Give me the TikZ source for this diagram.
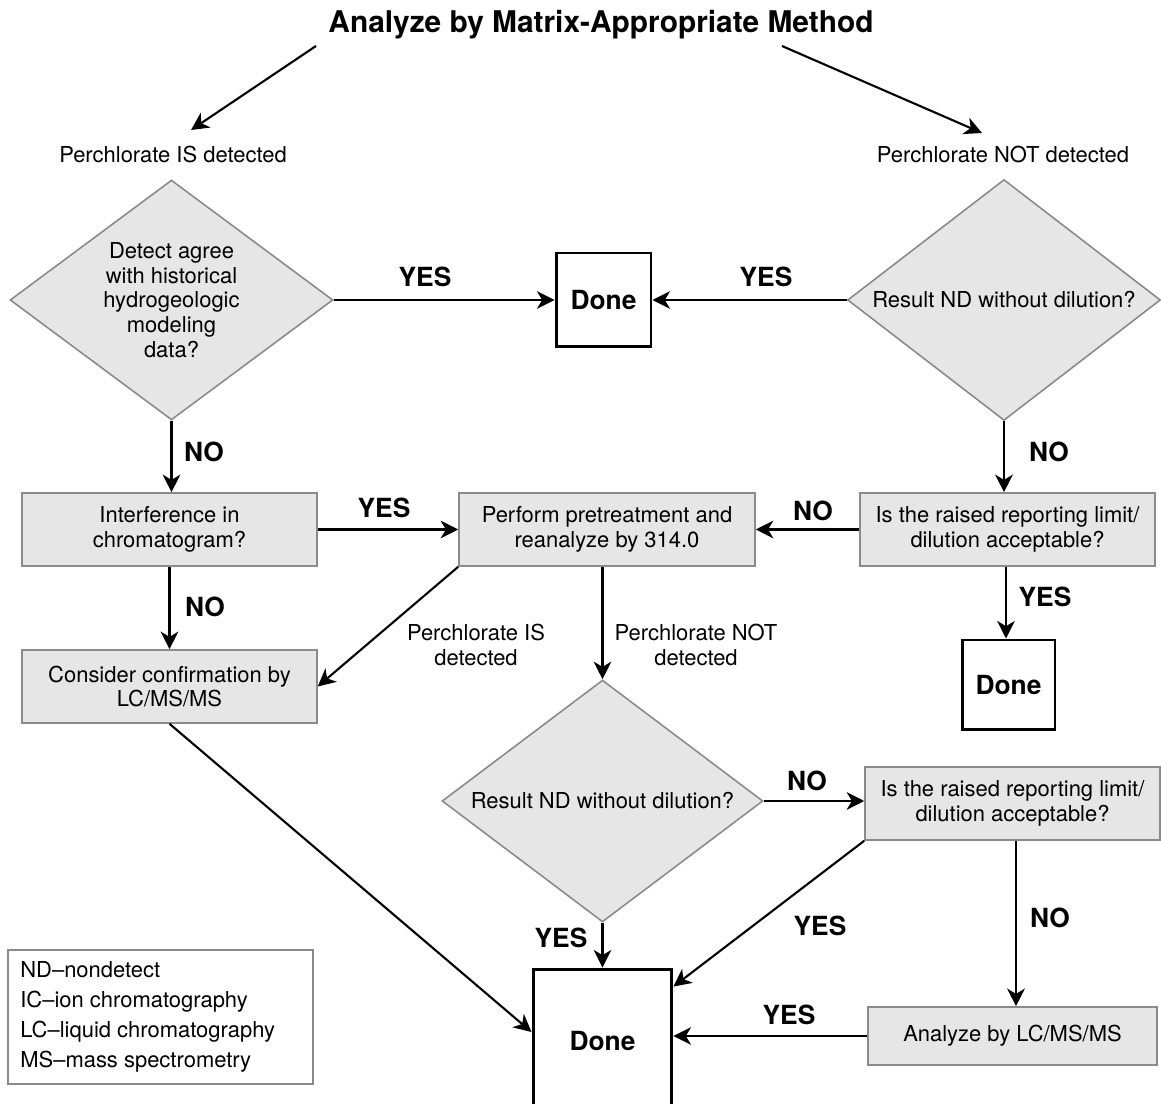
\documentclass[tikz,border=0pt]{standalone}
\usepackage{fontspec}
\setmainfont{TeX Gyre Heros}
\usetikzlibrary{arrows.meta,shapes.geometric,calc}
\definecolor{boxgray}{HTML}{8A8A8A}
\definecolor{boxfill}{HTML}{E6E6E6}
\begin{document}
\begin{tikzpicture}[x=0.02cm,y=-0.02cm,
  arr/.style={-{Stealth[length=10pt,width=10pt,inset=3pt]}, line width=1.2pt},
  txt/.style={font=\fontsize{12.5}{14.2}\selectfont, align=center, inner sep=0},
  lbl/.style={font=\fontsize{15}{17}\selectfont\bfseries, inner sep=0},
  gbox/.style={draw=boxgray, fill=boxfill, line width=0.9pt, inner sep=0, align=center,
    font=\fontsize{12.5}{14.2}\selectfont, minimum width=5.9cm, minimum height=1.46cm},
  dia/.style={diamond, draw=boxgray, fill=boxfill, line width=0.9pt, inner sep=0, align=center,
    font=\fontsize{12.5}{14}\selectfont, aspect=1.33},
  donebox/.style={draw=black, line width=1.7pt, inner sep=0, font=\fontsize{15}{17}\selectfont\bfseries}
]
\useasboundingbox (0,0) rectangle (1161,1104);

% title and first branch
\node[inner sep=0, font=\fontsize{17}{19}\selectfont\bfseries] (title) at (601,25) {Analyze by Matrix-Appropriate Method};
\node[txt] (isdet) at (173,155) {Perchlorate IS detected};
\node[txt] (notdet) at (1003,155) {Perchlorate NOT detected};
\coordinate (ta1) at (316,46);
\coordinate (ta2) at (191,130);
\coordinate (tb1) at (782,46);
\coordinate (tb2) at (982,133);
\draw[arr] (ta1) -- (ta2);
\draw[arr] (tb1) -- (tb2);

% diamonds
\node[dia, minimum width=6.46cm, minimum height=4.8cm] (d1) at (171.5,300)
  {Detect agree\\with historical\\hydrogeologic\\modeling\\data?};
\node[dia, minimum width=6.26cm, minimum height=4.82cm] (d2) at (1004,300)
  {Result ND without dilution?};
\node[dia, minimum width=6.42cm, minimum height=4.84cm] (d3) at (602.5,801)
  {Result ND without dilution?};

% done boxes
\node[donebox, minimum width=1.9cm, minimum height=1.88cm] (done1) at (603.5,300) {Done};
\node[donebox, minimum width=1.86cm, minimum height=1.8cm] (done2) at (1008.5,685) {Done};
\node[donebox, minimum width=2.78cm, minimum height=2.88cm] (done3) at (602.5,1041) {Done};

% grey boxes
\node[gbox] (int) at (169.5,529.5) {Interference in\\chromatogram?};
\node[gbox] (cons) at (169.5,686.5) {Consider confirmation by\\LC/MS/MS};
\node[gbox, minimum width=5.92cm] (perf) at (607,529.5) {Perform pretreatment and\\reanalyze by 314.0};
\node[gbox] (ir1) at (1007.5,529.5) {Is the raised reporting limit/\\dilution acceptable?};
\node[gbox] (ir2) at (1012.5,803.5) {Is the raised reporting limit/\\dilution acceptable?};
\node[gbox, minimum width=5.78cm, minimum height=1.16cm] (an) at (1012.5,1036) {Analyze by LC/MS/MS};

% legend
\node[draw=boxgray, line width=0.9pt, minimum width=6.1cm, minimum height=2.68cm, inner sep=0] (leg) at (160.5,1017) {};
\node[anchor=west, align=left, font=\fontsize{12.5}{17}\selectfont, inner sep=0] (legtext) at (20,1017)
  {ND–nondetect\\IC–ion chromatography\\LC–liquid chromatography\\MS–mass spectrometry};

% connectors
\draw[arr] (d1.east) -- (done1.west);
\draw[arr] (d2.west) -- (done1.east);
\draw[arr] (d1.south) -- (d1.south |- int.north);
\draw[arr] (d2.south) -- (d2.south |- ir1.north);
\draw[arr] (int.east) -- (perf.west);
\draw[arr] (ir1.west) -- (perf.east);
\draw[arr] (int.south) -- (cons.north);
\draw[arr] ($(ir1.south)+(-1.5,0)$) -- ($(done2.north)+(-2.5,0)$);
\draw[arr] (perf.south west) -- (cons.east);
\draw[arr] (d3.north |- perf.south) -- (d3.north);
\draw[arr] (d3.east) -- (d3.east -| ir2.west);
\draw[arr] ($(ir2.south)+(3.5,0)$) -- ($(ir2.south |- an.north)+(3.5,0)$);
\draw[arr] (an.west) -- (an.west -| done3.east);
\draw[arr] (ir2.south west) -- ($(done3.north east)+(0,19)$);
\draw[arr] (d3.south) -- (d3.south |- done3.north);
\draw[arr] (cons.south) -- ($(done3.west)+(0,-9)$);

% connector labels
\node[lbl] (l1) at (425,277) {YES};
\node[lbl] (l2) at (766,277) {YES};
\node[lbl] (l3) at (204,452) {NO};
\node[lbl] (l4) at (1049,452) {NO};
\node[lbl] (l5) at (384,508) {YES};
\node[lbl] (l6) at (813,511) {NO};
\node[lbl] (l7) at (205,607) {NO};
\node[lbl] (l8) at (1045,597) {YES};
\node[lbl] (l9) at (807,781) {NO};
\node[lbl] (l10) at (1050,918) {NO};
\node[lbl] (l11) at (820,926) {YES};
\node[lbl] (l12) at (561,938) {YES};
\node[lbl] (l13) at (789,1015) {YES};
\node[txt] (pis) at (476,645) {Perchlorate IS\\detected};
\node[txt] (pnot) at (696,645) {Perchlorate NOT\\detected};
\end{tikzpicture}
\end{document}
